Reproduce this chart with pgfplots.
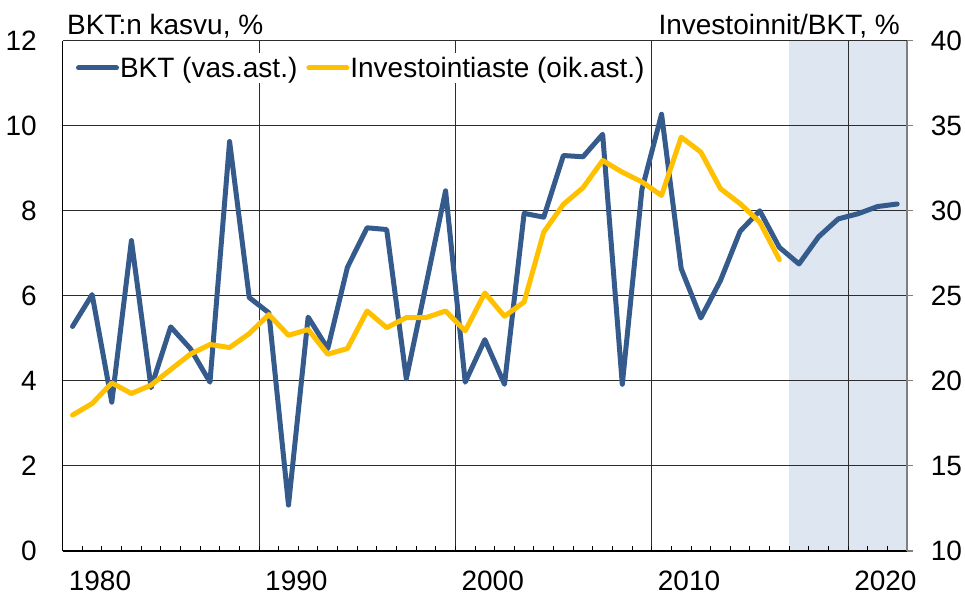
\documentclass[border=0pt]{standalone}
\usepackage{pgfplots}
\pgfplotsset{compat=1.18}
\usepackage{fontspec}
\setmainfont{Liberation Sans}
\definecolor{bktblue}{RGB}{53,91,141}
\definecolor{invyellow}{RGB}{255,192,0}
\definecolor{shadec}{RGB}{222,230,241}
\definecolor{gridc}{RGB}{45,45,45}

\pgfplotstableread{
year bkt
1979 5.28
1980 6.03
1981 3.50
1982 7.30
1983 3.84
1984 5.27
1985 4.76
1986 3.97
1987 9.63
1988 5.96
1989 5.60
1990 1.08
1991 5.50
1992 4.76
1993 6.67
1994 7.60
1995 7.56
1996 4.05
1997 6.25
1998 8.47
1999 3.97
2000 4.97
2001 3.92
2002 7.94
2003 7.85
2004 9.30
2005 9.27
2006 9.80
2007 3.92
2008 8.50
2009 10.27
2010 6.64
2011 5.48
2012 6.36
2013 7.52
2014 8.00
2015 7.14
2016 6.75
2017 7.39
2018 7.81
2019 7.93
2020 8.10
2021 8.16
}\bkttable

\pgfplotstableread{
year inv
1979 17.99
1980 18.67
1981 19.88
1982 19.26
1983 19.75
1984 20.67
1985 21.57
1986 22.14
1987 21.96
1988 22.78
1989 23.90
1990 22.68
1991 23.02
1992 21.57
1993 21.90
1994 24.11
1995 23.13
1996 23.72
1997 23.72
1998 24.11
1999 22.94
2000 25.17
2001 23.80
2002 24.64
2003 28.75
2004 30.38
2005 31.36
2006 32.96
2007 32.27
2008 31.70
2009 30.90
2010 34.33
2011 33.45
2012 31.30
2013 30.42
2014 29.34
2015 27.13
}\invtable

\begin{document}
\begin{tikzpicture}
\pgfplotsset{
  base/.style={
    width=844.3pt, height=510.3pt, scale only axis,
    xmin=1978.5, xmax=2021.5,
    ticklabel style={font=\fontsize{28}{32}\selectfont},
    /pgf/number format/assume math mode=true,
    clip mode=individual,
  }
}
\begin{axis}[base, set layers,
  ymin=0, ymax=12, ytick={0,2,...,12},
  axis x line*=bottom, axis y line*=left,
  axis line style={-},
  x axis line style={line width=1.8pt},
  y axis line style={line width=1.5pt},
  xtick={1988.5,1998.5,2008.5,2018.5}, xticklabels={},
  minor xtick={1979.5,1980.5,...,2020.5},
  minor tick length=5pt, major tick length=5pt, tick align=inside,
  xtick style={black, line width=1pt},
  ytick style={draw=none},
  xmajorgrids, ymajorgrids,
  grid style={gridc, line width=1.1pt},
  extra x ticks={1980.4,1990.4,2000.4,2010.4,2020.4},
  extra x tick labels={1980,1990,2000,2010,2020},
  extra x tick style={grid=none, major tick length=0pt, xticklabel style={inner sep=0pt, anchor=north, yshift=-20pt}},
  yticklabel style={inner sep=0pt, anchor=east, xshift=-25.7pt},
  legend columns=2,
  legend image code/.code={\draw[#1, line cap=round] (0pt,0pt) -- (38pt,0pt);},
  legend style={draw=none, fill=white, at={(rel axis cs:0.012,0.9465)}, anchor=west,
    inner sep=3pt, nodes={inner sep=1pt, font=\fontsize{28}{32}\selectfont},
    /tikz/every even column/.append style={column sep=8pt}},
]
\addplot[fill=shadec, draw=none, on layer=axis background, forget plot]
  coordinates {(2015.5,0) (2021.5,0) (2021.5,12) (2015.5,12)} -- cycle;
\addplot[bktblue, line width=5pt, line join=round, line cap=round] table[x=year, y=bkt] {\bkttable};
\addlegendentry{BKT (vas.ast.)}
\addlegendimage{invyellow, line width=5pt}
\addlegendentry{Investointiaste (oik.ast.)}
\coordinate (SW) at (rel axis cs:0,0);
\coordinate (NE) at (rel axis cs:1,1);
\node[anchor=base west, inner sep=0pt, font=\fontsize{28}{32}\selectfont] at ([xshift=4.3pt,yshift=5.7pt]rel axis cs:0,1) {BKT:n kasvu, \%};
\node[anchor=base east, inner sep=0pt, font=\fontsize{28}{32}\selectfont] at ([xshift=-7pt,yshift=5.7pt]rel axis cs:1,1) {Investoinnit/BKT, \%};
\end{axis}
\begin{axis}[base,
  ymin=10, ymax=40, ytick={10,15,...,40},
  axis x line=none, axis y line*=right,
  axis line style={-},
  y axis line style={gray, line width=1.5pt},
  ytick style={gray, line width=1.1pt}, tick align=outside, major tick length=6pt,
  yticklabel style={inner sep=0pt, anchor=west, xshift=17.7pt},
]
\addplot[invyellow, line width=5pt, line join=round, line cap=round] table[x=year, y=inv] {\invtable};
\end{axis}
\pgfresetboundingbox
\path ([shift={(-62.7pt,-44pt)}]SW) rectangle ([shift={(58pt,40.7pt)}]NE);
\end{tikzpicture}
\end{document}
